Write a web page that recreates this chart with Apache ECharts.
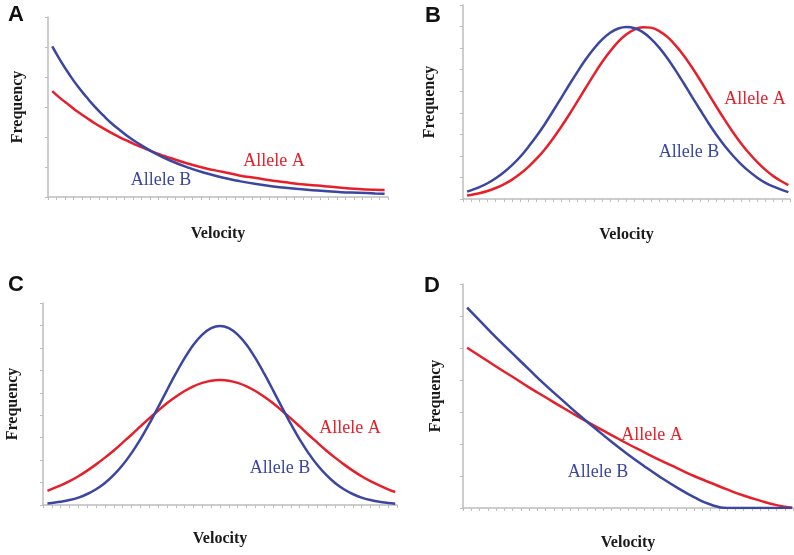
<!DOCTYPE html>
<html>
<head>
<meta charset="utf-8">
<script src="https://cdn.jsdelivr.net/npm/echarts@6/dist/echarts.min.js"></script>
<style>html,body{margin:0;padding:0;background:#fff}#c{width:794px;height:555px}</style>
</head>
<body>
<div id="c"></div>
<script>
// Panel A: exponential-like decay
const xA = [0.5,1.5,2.5,3.5,4.5,5.5,6.5,7.5,8.5,9.5,10.5,12.5,14.5,16.5,18.5,20.5,22.5,24.5,26.5,28.5,30.5,32.5,34.5,36.5,38.5,39.6];
const blueA = [5.02,4.53,4.09,3.69,3.34,3.01,2.72,2.45,2.22,2.00,1.81,1.47,1.20,0.98,0.80,0.65,0.53,0.43,0.35,0.29,0.24,0.20,0.16,0.14,0.12,0.11];
const redA  = [3.53,3.28,3.06,2.84,2.65,2.46,2.29,2.13,1.98,1.85,1.72,1.49,1.29,1.11,0.96,0.84,0.72,0.63,0.54,0.47,0.41,0.36,0.31,0.27,0.24,0.23];
// Panel B: shifted bell curves
const xB = [0.5,2,3,4,5,6,7,8,9,10,11,12,13,14,15,16,17,18,19,20,21,22,23,24,25,26,27,28,29,30,31,32,33,34,35,36,37,38,39,39.8];
const blueB = [0.34,0.55,0.73,0.96,1.24,1.57,1.96,2.42,2.92,3.47,4.07,4.68,5.30,5.90,6.47,6.97,7.39,7.71,7.91,7.98,7.92,7.74,7.43,7.02,6.53,5.97,5.37,4.75,4.14,3.54,2.98,2.47,2.02,1.62,1.28,0.99,0.75,0.57,0.42,0.32];
const redB  = [0.16,0.27,0.37,0.51,0.68,0.90,1.17,1.49,1.87,2.30,2.80,3.34,3.92,4.53,5.15,5.76,6.34,6.85,7.30,7.64,7.87,7.97,7.95,7.79,7.52,7.13,6.66,6.11,5.52,4.90,4.28,3.68,3.11,2.59,2.12,1.71,1.35,1.05,0.81,0.64];
// Panel C: same mean, different spread
const xC = [0.5,2,3,4,5,6,7,8,9,10,11,12,13,14,15,16,17,18,19,20,21,22,23,24,25,26,27,28,29,30,31,32,33,34,35,36,37,38,39,39.8];
const blueC = [0.07,0.14,0.22,0.33,0.49,0.70,0.98,1.34,1.78,2.31,2.92,3.61,4.35,5.11,5.85,6.54,7.14,7.59,7.88,7.98,7.88,7.59,7.14,6.54,5.85,5.11,4.35,3.61,2.92,2.31,1.78,1.34,0.98,0.70,0.49,0.33,0.22,0.14,0.09,0.06];
const redC  = [0.63,0.87,1.06,1.28,1.53,1.81,2.11,2.43,2.78,3.13,3.50,3.86,4.20,4.53,4.82,5.08,5.29,5.44,5.54,5.57,5.54,5.44,5.29,5.08,4.82,4.53,4.20,3.86,3.50,3.13,2.78,2.43,2.11,1.81,1.53,1.28,1.06,0.87,0.70,0.58];
// Panel D: declining curves
const xD = [0.5,2,4,6,8,10,12,14,16,18,20,22,24,26,28,30,32,34,36,38,39.9];
const blueD = [6.26,5.86,5.33,4.83,4.33,3.84,3.38,2.92,2.49,2.07,1.67,1.30,0.95,0.63,0.34,0.11,0,0,0,0,0];
const redD  = [5.01,4.76,4.42,4.10,3.77,3.46,3.15,2.85,2.56,2.28,2.00,1.74,1.48,1.24,1.00,0.79,0.58,0.39,0.23,0.09,0.01];

const yMax = [6, 9, 9, 7];
const panelLetters = ['A','B','C','D'];
const seriesNames = ['Allele A','Allele B'];
const xName = 'Velocity', yName = 'Frequency';

const RED = '#e6202a', BLUE = '#3a46a2';
const grids = [
  {left:48, top:17, width:340, height:180},
  {left:463, top:5, width:327, height:194},
  {left:43, top:303, width:354, height:202},
  {left:463, top:284, width:330, height:224}
];
const yGaps = [22, 25, 22, 19];
const xGaps = [29, 28, 26, 27];
const panels = [[xA,redA,blueA],[xB,redB,blueB],[xC,redC,blueC],[xD,redD,blueD]];
const axisCol = '#bdbdbd';
const nameStyle = {fontFamily:'Liberation Serif', fontWeight:'bold', fontSize:16, color:'#1a1a1a'};

const xAxis = [], yAxis = [], series = [];
panels.forEach((p, i) => {
  xAxis.push({type:'value', gridIndex:i, min:0, max:40, interval:1,
    axisLine:{show:true, lineStyle:{color:axisCol, width:1.5}},
    axisTick:{show:true, length:3, lineStyle:{color:axisCol}},
    axisLabel:{show:false}, splitLine:{show:false},
    name:xName, nameLocation:'middle', nameGap:xGaps[i], nameTextStyle:nameStyle});
  yAxis.push({type:'value', gridIndex:i, min:0, max:yMax[i], interval:1,
    axisLine:{show:true, lineStyle:{color:axisCol, width:1.5}},
    axisTick:{show:true, length:3, lineStyle:{color:axisCol}},
    axisLabel:{show:false}, splitLine:{show:false},
    name:yName, nameLocation:'middle', nameRotate:90, nameGap:yGaps[i], nameTextStyle:nameStyle});
  const [xs, r, b] = p;
  const sm = (i === 1 || i === 2) ? 0.35 : 0.5;
  series.push({type:'line', name:seriesNames[0], xAxisIndex:i, yAxisIndex:i, smooth:sm, showSymbol:false,
    data: xs.map((x,k)=>[x, r[k]]), lineStyle:{color:RED, width:2.5}, itemStyle:{color:RED}, z:2});
  series.push({type:'line', name:seriesNames[1], xAxisIndex:i, yAxisIndex:i, smooth:sm, showSymbol:false,
    data: xs.map((x,k)=>[x, b[k]]), lineStyle:{color:BLUE, width:2.5}, itemStyle:{color:BLUE}, z:3});
});

const letterPos = [[16,15],[433,16],[16,285],[432,286]];
const labelA = [[274,161],[755,99],[350,428],[652,435]];
const labelB = [[161,180],[689,152],[280,468],[598,472]];
const graphic = [];
letterPos.forEach((p,i)=>graphic.push({type:'text', x:p[0], y:p[1], z:10,
  style:{text:panelLetters[i], font:'bold 22px "Liberation Sans", Arial', fill:'#111', align:'center', verticalAlign:'middle'}}));
labelA.forEach(p=>graphic.push({type:'text', x:p[0], y:p[1], z:10,
  style:{text:seriesNames[0], font:'18px "Liberation Serif", "Times New Roman"', fill:RED, align:'center', verticalAlign:'middle'}}));
labelB.forEach(p=>graphic.push({type:'text', x:p[0], y:p[1], z:10,
  style:{text:seriesNames[1], font:'18px "Liberation Serif", "Times New Roman"', fill:BLUE, align:'center', verticalAlign:'middle'}}));

const chart = echarts.init(document.getElementById('c'), null, {renderer:'canvas'});
chart.setOption({animation:false, backgroundColor:'#fff', grid:grids, xAxis, yAxis, series, graphic});
</script>
</body>
</html>
